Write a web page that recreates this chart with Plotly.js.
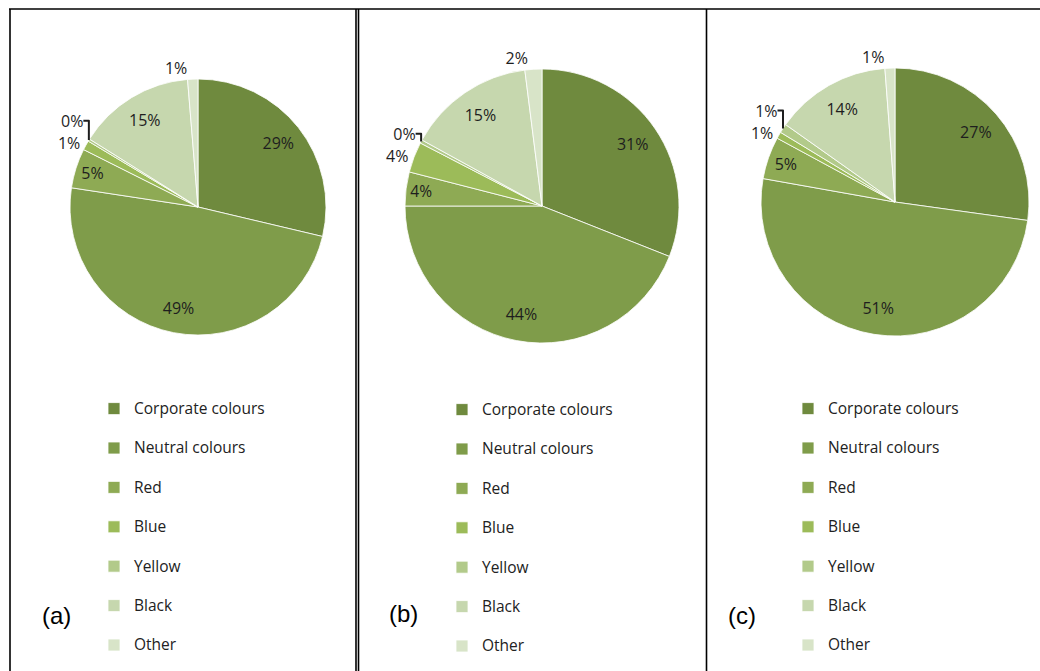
<!DOCTYPE html>
<html>
<head>
<meta charset="utf-8">
<script src="https://cdn.plot.ly/plotly-3.0.1.min.js"></script>
<style>html,body{margin:0;padding:0;background:#fff;}#chart{width:1040px;height:671px;}</style>
</head>
<body>
<div id="chart"></div>
<script>
// ---- data ----
const categories = ['Corporate colours', 'Neutral colours', 'Red', 'Blue', 'Yellow', 'Black', 'Other'];
const valuesA = [28.7, 48.7, 5.0, 1.2, 0.3, 14.8, 1.3];
const valuesB = [31.0, 44.0, 4.0, 3.6, 0.4, 15.0, 2.0];
const valuesC = [27.2, 50.6, 5.1, 0.8, 1.1, 14.0, 1.2];
const panelLabels = ['(a)', '(b)', '(c)'];
const colours = ['#6F8A3E', '#7F9C4A', '#8EAA54', '#9CBB59', '#B2CA8A', '#C6D7AE', '#D8E4C8'];

// ---- layout helpers ----
const W = 1040, H = 671;
function dom(cx, cy, r) {
  return { x: [(cx - r) / W, (cx + r) / W], y: [(H - cy - r) / H, (H - cy + r) / H] };
}
// each panel gets its own (visually identical) label set so every legend lists all slices
function panelLabelsFor(i) {
  return categories.map(c => '<span style="font-size:15.5px">' + c + '</span><br>' + '\u00a0'.repeat(i + 1));
}

// full pie: slices + legend
function basePie(values, domain, labels, legendId) {
  return {
    type: 'pie', labels: labels, values: values, sort: false,
    direction: 'clockwise', rotation: 0, domain: domain,
    legend: legendId,
    marker: { colors: colours, line: { color: '#ffffff', width: 0.8 } },
    textinfo: 'none', hoverinfo: 'label+percent', showlegend: true
  };
}
// transparent ring on top that only carries the percentage labels (placed near the rim)
function labelPie(values, domain, labels, positions) {
  return {
    type: 'pie', labels: labels, values: values, sort: false,
    direction: 'clockwise', rotation: 0, domain: domain, hole: 0.6,
    marker: { colors: values.map(() => 'rgba(0,0,0,0)'), line: { width: 0 } },
    texttemplate: '%{percent:.0%}',
    textposition: positions,
    insidetextorientation: 'horizontal',
    textfont: { family: 'Open Sans', size: 16, color: '#1e1e1e' },
    outsidetextfont: { family: 'Open Sans', size: 16, color: '#1e1e1e' },
    hoverinfo: 'skip', showlegend: false
  };
}

const pos = ['inside', 'inside', 'inside', 'outside', 'outside', 'inside', 'outside'];
const domA = dom(198, 207, 128), domB = dom(542, 206, 137), domC = dom(895, 202, 134);
const labA = panelLabelsFor(0), labB = panelLabelsFor(1), labC = panelLabelsFor(2);

const data = [
  basePie(valuesA, domA, labA, 'legend'), labelPie(valuesA, domA, labA, pos),
  basePie(valuesB, domB, labB, 'legend2'), labelPie(valuesB, domB, labB, pos),
  basePie(valuesC, domC, labC, 'legend3'), labelPie(valuesC, domC, labC, pos)
];

function leg(xpx, ypx) {
  return {
    x: xpx / W, y: 1 - ypx / H, xanchor: 'left', yanchor: 'top',
    font: { family: 'Open Sans', size: 14, color: '#222' },
    bgcolor: 'rgba(0,0,0,0)', borderwidth: 0, valign: 'top',
    traceorder: 'normal'
  };
}

const lineStyle = { color: '#000', width: 1.6 };
const shapes = [
  { type: 'line', xref: 'paper', yref: 'paper', x0: 9 / W, x1: 1, y0: 1 - 9 / H, y1: 1 - 9 / H, line: lineStyle },
  { type: 'line', xref: 'paper', yref: 'paper', x0: 10 / W, x1: 10 / W, y0: 0, y1: 1 - 9 / H, line: lineStyle },
  { type: 'line', xref: 'paper', yref: 'paper', x0: 356 / W, x1: 356 / W, y0: 0, y1: 1 - 9 / H, line: lineStyle },
  { type: 'line', xref: 'paper', yref: 'paper', x0: 358.5 / W, x1: 358.5 / W, y0: 0, y1: 1 - 9 / H, line: lineStyle },
  { type: 'line', xref: 'paper', yref: 'paper', x0: 706.5 / W, x1: 706.5 / W, y0: 0, y1: 1 - 9 / H, line: lineStyle }
];

const annPos = [[56, 615], [403, 613], [742, 615]];
const annotations = panelLabels.map((t, i) => ({
  text: t, xref: 'paper', yref: 'paper', x: annPos[i][0] / W, y: 1 - annPos[i][1] / H,
  xanchor: 'center', yanchor: 'middle', showarrow: false,
  font: { family: 'Liberation Sans', size: 24, color: '#000' }
}));

const layout = {
  width: W, height: H,
  margin: { l: 0, r: 0, t: 0, b: 0, autoexpand: false },
  paper_bgcolor: '#fff',
  showlegend: true,
  legend: leg(94, 393),
  legend2: leg(442, 394),
  legend3: leg(788, 393),
  shapes: shapes,
  annotations: annotations
};

Plotly.newPlot('chart', data, layout, { displayModeBar: false, staticPlot: true });
</script>
</body>
</html>
